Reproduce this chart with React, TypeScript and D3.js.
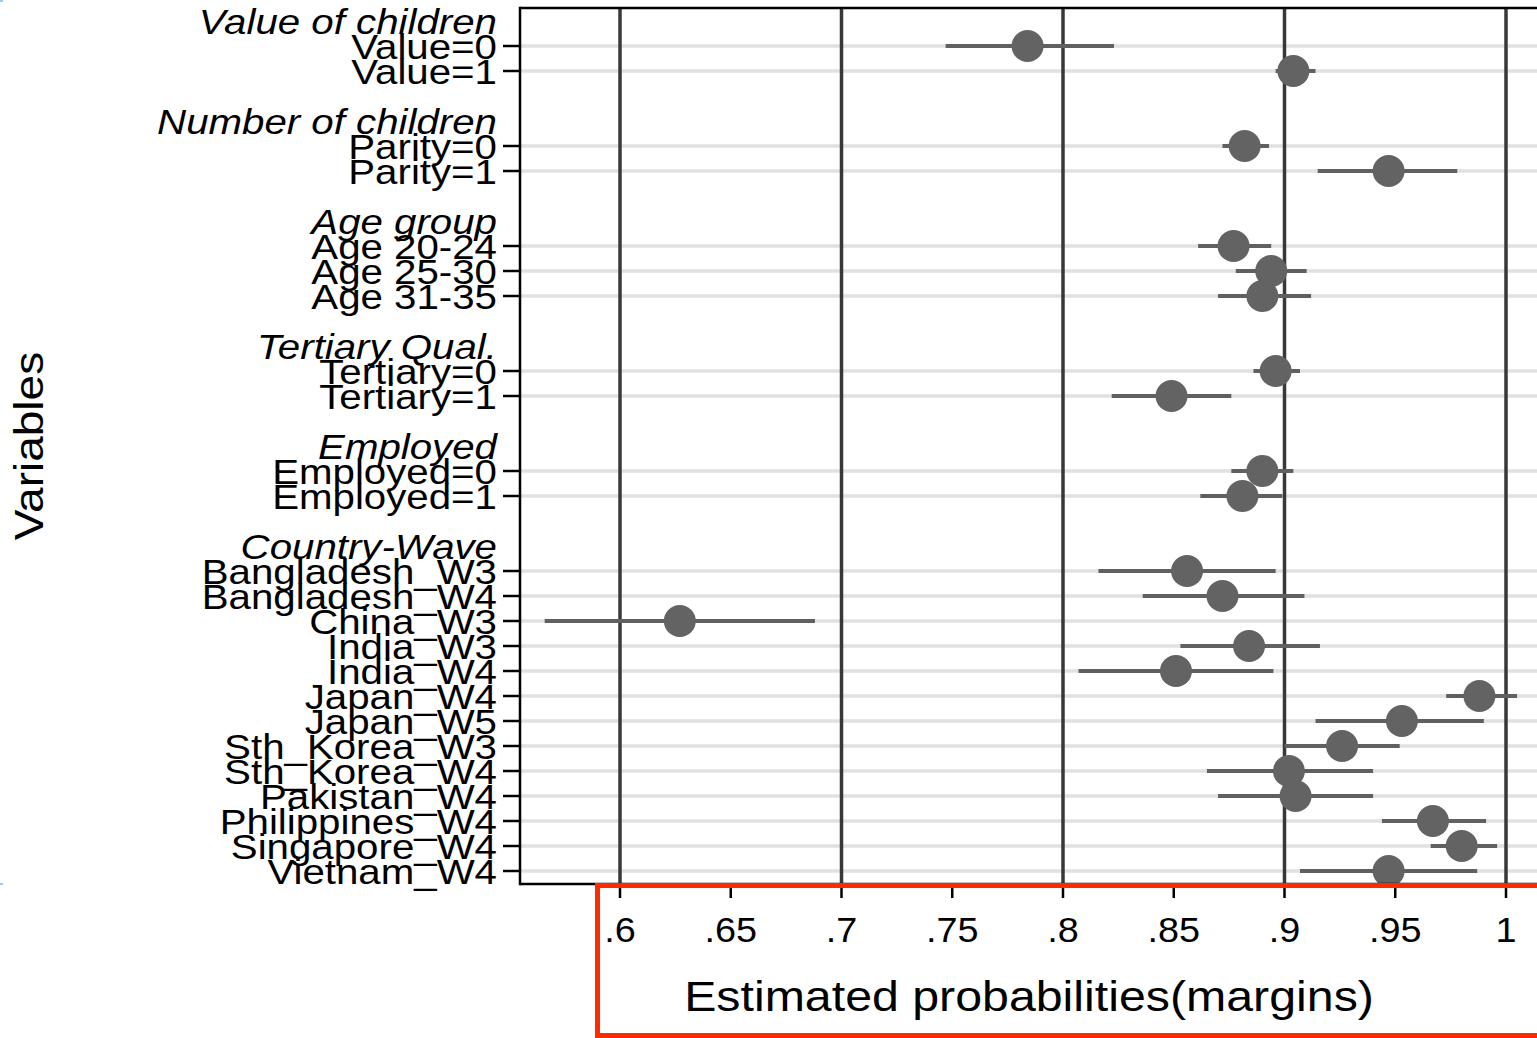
import React from "react";
import * as d3 from "d3";

// Variable groups and their row labels
const groupHeaders = [
  "Value of children",
  "Number of children",
  "Age group",
  "Tertiary Qual.",
  "Employed",
  "Country-Wave",
];
const groupSizes = [2, 2, 3, 2, 2, 13];

const rowLabels = [
  "Value=0", "Value=1",
  "Parity=0", "Parity=1",
  "Age 20-24", "Age 25-30", "Age 31-35",
  "Tertiary=0", "Tertiary=1",
  "Employed=0", "Employed=1",
  "Bangladesh_W3", "Bangladesh_W4", "China_W3", "India_W3", "India_W4",
  "Japan_W4", "Japan_W5", "Sth_Korea_W3", "Sth_Korea_W4", "Pakistan_W4",
  "Philippines_W4", "Singapore_W4", "Vietnam_W4",
];

// Estimated probabilities (margins) with 95% confidence bounds
const estimates = [
  0.784, 0.904,
  0.882, 0.947,
  0.877, 0.894, 0.890,
  0.896, 0.849,
  0.890, 0.881,
  0.856, 0.872, 0.627, 0.884, 0.851,
  0.988, 0.953, 0.926, 0.902, 0.905,
  0.967, 0.980, 0.947,
];
const lower = [
  0.747, 0.896,
  0.872, 0.915,
  0.861, 0.878, 0.870,
  0.886, 0.822,
  0.876, 0.862,
  0.816, 0.836, 0.566, 0.853, 0.807,
  0.973, 0.914, 0.900, 0.865, 0.870,
  0.944, 0.966, 0.907,
];
const upper = [
  0.823, 0.914,
  0.893, 0.978,
  0.894, 0.910, 0.912,
  0.907, 0.876,
  0.904, 0.899,
  0.896, 0.909, 0.688, 0.916, 0.895,
  1.005, 0.990, 0.952, 0.940, 0.940,
  0.991, 0.996, 0.987,
];

const xTicks = [0.6, 0.65, 0.7, 0.75, 0.8, 0.85, 0.9, 0.95, 1];
const majorLines = [0.6, 0.7, 0.8, 0.9, 1];

const fmtTick = (v: number) => (v === 1 ? "1" : String(v).replace(/^0/, ""));

export default function App() {
  const W = 1537;
  const H = 1038;
  const left = 520;
  const top = 8;
  const bottom = 884;

  const x = d3.scaleLinear().domain([0.6, 1]).range([620, 1506]);

  // Assign a slot to each header and row, with a blank slot between groups
  const headerSlots: number[] = [];
  const rowSlots: number[] = [];
  let slot = 0;
  groupSizes.forEach((n, gi) => {
    headerSlots.push(slot);
    slot += 1;
    for (let k = 0; k < n; k++) {
      rowSlots.push(slot);
      slot += 1;
    }
    if (gi < groupSizes.length - 1) slot += 1;
  });
  const y = d3.scaleLinear().domain([0, slot - 1]).range([21, 21 + 25 * (slot - 1)]);

  const font = "Liberation Sans, Arial, Helvetica, sans-serif";
  const sx = 1.15;

  return (
    <svg
      width={W}
      height={H}
      style={{ position: "absolute", left: 0, top: 0, background: "#fff" }}
      fontFamily={font}
    >
      <rect x={0} y={0} width={W} height={H} fill="#fff" />
      <rect x={0} y={0} width={3} height={2} fill="#9ccbf0" />
      <rect x={0} y={883} width={3} height={2} fill="#9ccbf0" />

      {/* horizontal row grid */}
      {rowSlots.map((s, i) => (
        <line key={"h" + i} x1={left} x2={W} y1={y(s)} y2={y(s)} stroke="#e1e1e1" strokeWidth={3.5} />
      ))}

      {/* vertical reference lines */}
      {majorLines.map((v) => (
        <line key={"v" + v} x1={x(v)} x2={x(v)} y1={top} y2={bottom} stroke="#383838" strokeWidth={3.5} />
      ))}

      {/* confidence intervals */}
      {rowSlots.map((s, i) => (
        <line
          key={"ci" + i}
          x1={x(lower[i])}
          x2={x(upper[i])}
          y1={y(s)}
          y2={y(s)}
          stroke="#606060"
          strokeWidth={4}
        />
      ))}

      {/* point estimates */}
      {rowSlots.map((s, i) => (
        <circle key={"p" + i} cx={x(estimates[i])} cy={y(s)} r={16} fill="#636363" />
      ))}

      {/* frame */}
      <line x1={left} x2={W} y1={top} y2={top} stroke="#000" strokeWidth={2.5} />
      <line x1={left} x2={left} y1={top - 1.25} y2={bottom + 1.25} stroke="#000" strokeWidth={2.5} />
      <line x1={left} x2={W} y1={bottom} y2={bottom} stroke="#000" strokeWidth={2.5} />

      {/* y ticks and labels */}
      {rowSlots.map((s, i) => (
        <line key={"yt" + i} x1={503} x2={left} y1={y(s)} y2={y(s)} stroke="#000" strokeWidth={2.5} />
      ))}
      {rowSlots.map((s, i) => (
        <text
          key={"yl" + i}
          transform={`translate(497,${y(s) + 13}) scale(${sx},1)`}
          textAnchor="end"
          fontSize={35}
          fill="#000"
        >
          {rowLabels[i]}
        </text>
      ))}
      {headerSlots.map((s, i) => (
        <text
          key={"gh" + i}
          transform={`translate(497,${y(s) + 13}) scale(${sx},1)`}
          textAnchor="end"
          fontSize={35}
          fontStyle="italic"
          fill="#000"
        >
          {groupHeaders[i]}
        </text>
      ))}

      {/* x ticks and labels */}
      {xTicks.map((v) => (
        <g key={"xt" + v}>
          <line x1={x(v)} x2={x(v)} y1={bottom} y2={898} stroke="#000" strokeWidth={2.5} />
          <text
            transform={`translate(${x(v)},942) scale(1.08,1)`}
            textAnchor="middle"
            fontSize={35}
            fill="#000"
          >
            {fmtTick(v)}
          </text>
        </g>
      ))}

      {/* axis titles */}
      <text
        transform={`translate(1029,1011) scale(${sx},1)`}
        textAnchor="middle"
        fontSize={42}
        fill="#000"
      >
        Estimated probabilities(margins)
      </text>
      <text
        transform={`translate(43,446) rotate(-90) scale(${sx},1)`}
        textAnchor="middle"
        fontSize={40}
        fill="#000"
      >
        Variables
      </text>

      {/* highlight box around the x axis */}
      <rect
        x={597.5}
        y={885.5}
        width={1000}
        height={150}
        fill="none"
        stroke="#ff2a00"
        strokeWidth={5}
      />
    </svg>
  );
}
